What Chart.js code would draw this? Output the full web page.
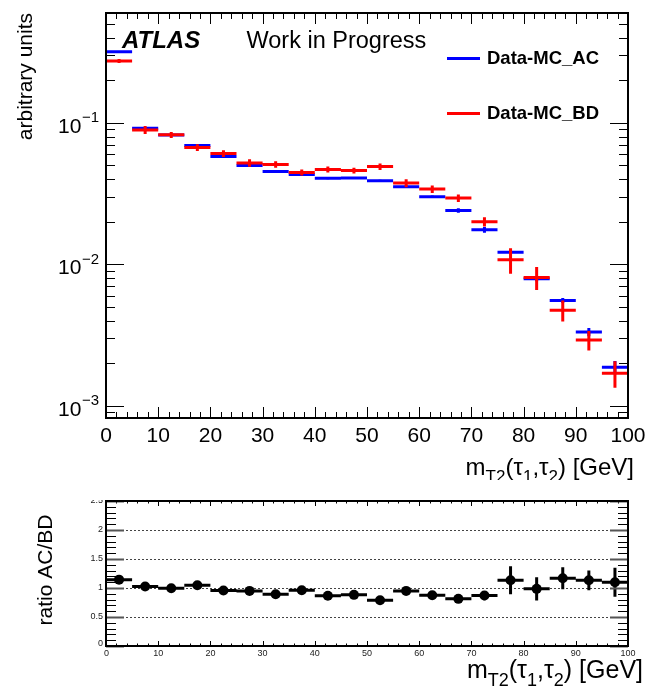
<!DOCTYPE html>
<html><head><meta charset="utf-8">
<script src="https://cdn.jsdelivr.net/npm/chart.js@4.4.1/dist/chart.umd.min.js"></script>
<style>
html,body{margin:0;padding:0;background:#fff;width:649px;height:689px;overflow:hidden;}
#topc{position:absolute;left:0;top:0;}
#botc{position:absolute;left:0;top:480px;}
</style></head><body>
<canvas id="topc" width="649" height="480"></canvas>
<canvas id="botc" width="649" height="209"></canvas>
<script>
// ---------- data ----------
const binLow = [0,5,10,15,20,25,30,35,40,45,50,55,60,65,70,75,80,85,90,95];
const binWidth = 5;
const acValues = [0.318,0.0917,0.0820,0.0692,0.0578,0.0499,0.0453,0.0431,0.0406,0.0408,0.0389,0.0353,0.0300,0.0240,0.01754,0.01219,0.0079,0.00555,0.00332,0.00187];
const acErrors = [0.004,0.0015,0.0013,0.0012,0.0010,0.0009,0.0008,0.0008,0.0007,0.0007,0.0007,0.0007,0.0006,0.0009,0.0008,0.0004,0.0003,0.00022,0.00022,0.0002];
const bdValues = [0.274,0.0892,0.0823,0.0669,0.0607,0.0521,0.0508,0.0446,0.0468,0.0460,0.0491,0.0375,0.0340,0.0294,0.0200,0.01076,0.00807,0.00474,0.00292,0.00170];
const bdErrors = [0.009,0.0058,0.004,0.0036,0.0033,0.0032,0.0027,0.0022,0.0023,0.0021,0.0026,0.0024,0.0021,0.0018,0.0015,0.0022,0.0015,0.0008,0.00046,0.00036];
const ratioValues = [1.144,1.025,0.995,1.047,0.956,0.950,0.892,0.961,0.865,0.882,0.789,0.950,0.875,0.813,0.870,1.133,0.985,1.167,1.133,1.098];
const ratioErrors = [0.04,0.05,0.05,0.05,0.05,0.05,0.05,0.05,0.05,0.05,0.05,0.06,0.06,0.07,0.08,0.24,0.20,0.19,0.17,0.25];
const xTickLabels = [0,10,20,30,40,50,60,70,80,90,100];
const yDecades = [1e-3,1e-2,1e-1];
const yDecadeExp = ['\u22123','\u22122','\u22121'];
const ratioTickLabels = [0,0.5,1,1.5,2,2.5];
const ratioGridValues = [0.5,1,1.5,2];
const seriesNames = ['Data-MC_AC','Data-MC_BD'];

// ---------- helpers ----------
const FONT = '"Liberation Sans", Arial, sans-serif';
function barSegments(vals){
  const d=[];
  vals.forEach((v,i)=>{d.push({x:binLow[i],y:v},{x:binLow[i]+binWidth,y:v},{x:binLow[i]+binWidth,y:null});});
  return d;
}
function errSegments(vals,errs){
  const d=[];
  vals.forEach((v,i)=>{const c=binLow[i]+binWidth/2;d.push({x:c,y:v-errs[i]},{x:c,y:v+errs[i]},{x:c,y:null});});
  return d;
}
function centers(vals){return vals.map((v,i)=>({x:binLow[i]+binWidth/2,y:v}));}
function seg(data,color,w){
  return {data:data,borderColor:color,backgroundColor:color,borderWidth:w,pointRadius:0,
    showLine:true,spanGaps:false,tension:0,borderCapStyle:'butt',fill:false};
}
function drawRich(ctx,parts,xRight,baseline,size){
  let total=0;
  parts.forEach(p=>{ctx.font=(p.sub?Math.round(size*0.72):size)+'px '+FONT;p.w=ctx.measureText(p.t).width;total+=p.w;});
  let x=xRight-total;
  ctx.textAlign='left';ctx.textBaseline='alphabetic';
  parts.forEach(p=>{ctx.font=(p.sub?Math.round(size*0.72):size)+'px '+FONT;
    ctx.fillText(p.t,x,baseline+(p.sub?size*0.3:0));x+=p.w;});
}
const titleParts=()=>[{t:'m'},{t:'T2',sub:true},{t:'(\u03c4'},{t:'1',sub:true},{t:',\u03c4'},{t:'2',sub:true},{t:') [GeV]'}];
function px(v){return Math.round(v)+0.5;}

// ---------- top panel ----------
const topPlugin={
  id:'topAxes',
  afterDatasetsDraw(chart){
    const ctx=chart.ctx,a=chart.chartArea,xs=chart.scales.x,ys=chart.scales.y;
    ctx.save();
    ctx.strokeStyle='#000';ctx.lineWidth=1;
    for(let v=0;v<=100;v+=2){
      const p=px(xs.getPixelForValue(v));const len=(v%10===0)?11:6;
      ctx.beginPath();ctx.moveTo(p,a.bottom);ctx.lineTo(p,a.bottom-len);
      ctx.moveTo(p,a.top);ctx.lineTo(p,a.top+len);ctx.stroke();
    }
    for(let e=-4;e<=0;e++){
      for(let k=1;k<=9;k++){
        const v=k*Math.pow(10,e);
        if(v<ys.min||v>ys.max)continue;
        const p=px(ys.getPixelForValue(v));const len=(k===1)?18:9;
        ctx.beginPath();ctx.moveTo(a.left,p);ctx.lineTo(a.left+len,p);
        ctx.moveTo(a.right,p);ctx.lineTo(a.right-len,p);ctx.stroke();
      }
    }
    ctx.lineWidth=2;ctx.strokeRect(a.left,a.top,a.right-a.left,a.bottom-a.top);
    ctx.fillStyle='#000';ctx.font='21px '+FONT;ctx.textAlign='center';ctx.textBaseline='alphabetic';
    xTickLabels.forEach(v=>{ctx.fillText(String(v),xs.getPixelForValue(v),a.bottom+24);});
    yDecades.forEach((v,i)=>{
      const p=ys.getPixelForValue(v);
      ctx.font='15px '+FONT;const we=ctx.measureText(yDecadeExp[i]).width;
      ctx.textAlign='right';ctx.fillText(yDecadeExp[i],99,p-0.5);
      ctx.font='21px '+FONT;ctx.fillText('10',99-we-0.5,p+10);
    });
    ctx.save();ctx.translate(31.5,a.top);ctx.rotate(-Math.PI/2);
    ctx.font='21px '+FONT;ctx.textAlign='right';ctx.fillText('arbitrary units',0,0);ctx.restore();
    drawRich(ctx,titleParts(),634,475,24);
    ctx.textAlign='left';
    ctx.font='italic bold 24px '+FONT;ctx.fillText('ATLAS',122,47.5);
    ctx.font='23.5px '+FONT;ctx.fillText('Work in Progress',246.5,47.5);
    ctx.lineWidth=3;
    ctx.strokeStyle='#0000ff';ctx.beginPath();ctx.moveTo(447,58.5);ctx.lineTo(480,58.5);ctx.stroke();
    ctx.strokeStyle='#ff0000';ctx.beginPath();ctx.moveTo(447,113.5);ctx.lineTo(480,113.5);ctx.stroke();
    ctx.font='bold 18.5px '+FONT;
    ctx.fillText(seriesNames[0],487,63.5);
    ctx.fillText(seriesNames[1],487,119);
    ctx.restore();
  }
};
new Chart(document.getElementById('topc'),{
  type:'line',
  data:{datasets:[
    seg(barSegments(bdValues),'#ff0000',3),
    seg(errSegments(bdValues,bdErrors),'#ff0000',3),
    seg(barSegments(acValues),'#0000ff',3),
    seg(errSegments(acValues,acErrors),'#0000ff',3)
  ]},
  options:{responsive:false,animation:false,events:[],
    layout:{padding:{left:106,right:21,top:13,bottom:62}},
    plugins:{legend:{display:false},tooltip:{enabled:false}},
    scales:{
      x:{type:'linear',min:0,max:100,display:false},
      y:{type:'logarithmic',min:8.19e-4,max:0.598,display:false}
    }
  },
  plugins:[topPlugin]
});

// ---------- ratio panel ----------
const botPlugin={
  id:'botAxes',
  beforeDatasetsDraw(chart){
    const ctx=chart.ctx,a=chart.chartArea,ys=chart.scales.y;
    ctx.save();ctx.strokeStyle='#444';ctx.lineWidth=1;ctx.setLineDash([2,2]);
    ratioGridValues.forEach(v=>{const p=px(ys.getPixelForValue(v));
      ctx.beginPath();ctx.moveTo(a.left,p);ctx.lineTo(a.right,p);ctx.stroke();});
    ctx.restore();
  },
  afterDatasetsDraw(chart){
    const ctx=chart.ctx,a=chart.chartArea,xs=chart.scales.x,ys=chart.scales.y;
    ctx.save();
    ctx.strokeStyle='#000';ctx.lineWidth=1;
    for(let v=0;v<=100;v+=2){
      const p=px(xs.getPixelForValue(v));const len=(v%10===0)?5:2.5;
      ctx.beginPath();ctx.moveTo(p,a.bottom);ctx.lineTo(p,a.bottom-len);
      ctx.moveTo(p,a.top);ctx.lineTo(p,a.top+len);ctx.stroke();
    }
    for(let i=0;i<=25;i++){
      const v=i/10;const p=px(ys.getPixelForValue(v));const major=(i%5===0);
      ctx.lineWidth=major?2:1;ctx.strokeStyle=major?'#555':'#000';
      const len=major?18:10;
      ctx.beginPath();ctx.moveTo(a.left,p);ctx.lineTo(a.left+len,p);
      ctx.moveTo(a.right,p);ctx.lineTo(a.right-len,p);ctx.stroke();
    }
    ctx.strokeStyle='#000';ctx.lineWidth=2;ctx.strokeRect(a.left,a.top,a.right-a.left,a.bottom-a.top);
    ctx.fillStyle='#222';ctx.font='9px '+FONT;
    ctx.textAlign='center';ctx.textBaseline='alphabetic';
    xTickLabels.forEach(v=>{ctx.fillText(String(v),xs.getPixelForValue(v)+(v===0?0.5:0),a.bottom+9.5);});
    ctx.textAlign='right';ctx.textBaseline='middle';
    ctx.save();ctx.beginPath();ctx.rect(0,a.top-1,a.left,a.bottom-a.top+20);ctx.clip();
    ratioTickLabels.forEach(v=>{ctx.fillText(String(v),103,ys.getPixelForValue(v)-(v===0?2:0));});
    ctx.restore();
    ctx.fillStyle='#000';ctx.textBaseline='alphabetic';
    ctx.save();ctx.translate(51.5,90);ctx.rotate(-Math.PI/2);
    ctx.font='21px '+FONT;ctx.textAlign='center';ctx.fillText('ratio AC/BD',0,0);ctx.restore();
    drawRich(ctx,titleParts(),643,198,25);
    ctx.restore();
  }
};
new Chart(document.getElementById('botc'),{
  type:'line',
  data:{datasets:[
    {data:centers(ratioValues),showLine:false,pointRadius:5,pointBackgroundColor:'#000',pointBorderColor:'#000',pointBorderWidth:0},
    seg(barSegments(ratioValues),'#000',3),
    seg(errSegments(ratioValues,ratioErrors),'#000',3)
  ]},
  options:{responsive:false,animation:false,events:[],
    layout:{padding:{left:106,right:21,top:21,bottom:43}},
    plugins:{legend:{display:false},tooltip:{enabled:false}},
    scales:{
      x:{type:'linear',min:0,max:100,display:false},
      y:{type:'linear',min:0,max:2.5,display:false}
    }
  },
  plugins:[botPlugin]
});
</script>
</body></html>
